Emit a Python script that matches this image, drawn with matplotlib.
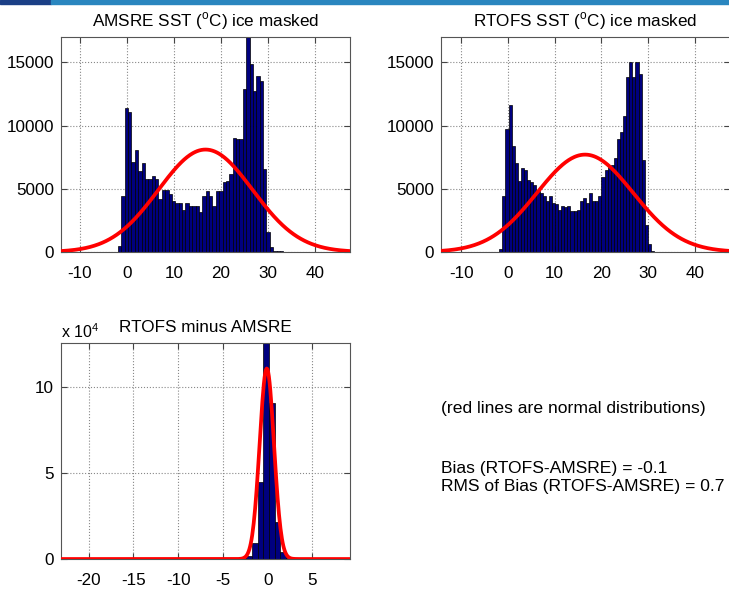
import matplotlib.pyplot as plt
import numpy as np
from matplotlib.patches import Rectangle

plt.rcParams['font.family'] = ['Liberation Sans', 'DejaVu Sans']
plt.rcParams['axes.unicode_minus'] = False

# AMSRE SST histogram counts (50 bins)
amsre_start, amsre_width = -1.9, 0.717
amsre_counts = [480, 4400, 11400, 11100, 7100, 8100, 6400, 7000, 5800, 5800,
                6000, 5800, 4200, 4900, 4900, 4550, 4000, 3850, 3850, 3300,
                3900, 3600, 3600, 3600, 3200, 4400, 4800, 4400, 3650, 4800,
                4800, 5500, 5600, 6200, 9000, 8900, 8900, 12850, 17500, 14850,
                12700, 13900, 13500, 6600, 1600, 400, 80, 50, 40, 20]

# RTOFS SST histogram counts (50 bins)
rtofs_start, rtofs_width = -1.85, 0.662
rtofs_counts = [270, 4400, 9700, 11650, 8350, 7000, 5600, 6650, 6500, 5700,
                5500, 5300, 4800, 4650, 4400, 4000, 4400, 3850, 3800, 3350,
                3600, 3550, 3600, 3250, 3250, 3350, 4000, 4250, 3850, 4650,
                4050, 4050, 4400, 5900, 6500, 6750, 6900, 7450, 8900, 9500,
                10750, 13800, 15000, 13800, 15000, 14100, 7300, 2100, 670, 100]

# RTOFS minus AMSRE histogram counts (50 bins)
diff_start, diff_width = -23.16, 0.63
diff_counts = [300, 150, 80, 60, 60, 50, 60, 50, 50, 60,
               50, 60, 50, 50, 60, 50, 60, 80, 100, 250,
               200, 80, 80, 100, 250, 100, 100, 120, 150, 200,
               300, 500, 800, 1700, 9100, 45000, 135000, 90700, 21700, 4300,
               1400, 600, 300, 100, 80, 60, 50, 40, 40, 30]

# normal fits: mean, std, peak height
amsre_fit = (16.7, 10.0, 8100)
rtofs_fit = (16.5, 10.3, 7700)
diff_fit = (-0.1, 0.8, 111000)

bar_color = '#00007f'
fs = 12.3
fig = plt.figure(figsize=(7.29, 5.90), dpi=100)

# slide header strip
fig.patches.append(Rectangle((0, 0.994), 0.07, 0.006, transform=fig.transFigure,
                             color='#1b3f86', zorder=0))
fig.patches.append(Rectangle((0.07, 0.994), 0.93, 0.006, transform=fig.transFigure,
                             color='#2a86bf', zorder=0))


def panel(rect, start, width, counts, fit, xlim, ylim, xticks, yticks, title):
    ax = fig.add_axes(rect)
    counts = np.array(counts)
    lefts = start + width * np.arange(len(counts))
    ax.bar(lefts, counts, width=width, align='edge', color=bar_color,
           edgecolor='black', linewidth=0.5, zorder=2)
    mu, sd, peak = fit
    xs = np.linspace(xlim[0], xlim[1], 400)
    ax.plot(xs, peak * np.exp(-0.5 * ((xs - mu) / sd) ** 2), color='red', lw=2.7, zorder=3)
    ax.set_xlim(xlim)
    ax.set_ylim(ylim)
    ax.set_xticks(xticks)
    ax.set_yticks(yticks)
    ax.grid(True, linestyle=':', color='#888888', linewidth=0.8, zorder=0)
    ax.set_axisbelow(True)
    ax.tick_params(direction='in', labelsize=fs, length=4, color='#444444',
                   top=True, right=True)
    ax.tick_params(axis='x', pad=10)
    ax.tick_params(axis='y', pad=5)
    for s in ax.spines.values():
        s.set_color('#555555')
    ax.set_title(title, fontsize=fs, pad=8)
    return ax


panel([0.0837, 0.5729, 0.3964, 0.3644], amsre_start, amsre_width, amsre_counts,
      amsre_fit, (-14.0, 47.4), (0, 17000), [-10, 0, 10, 20, 30, 40],
      [0, 5000, 10000, 15000], 'AMSRE SST ($^{\\mathregular{o}}$C) ice masked')

panel([0.605, 0.5729, 0.3964, 0.3644], rtofs_start, rtofs_width, rtofs_counts,
      rtofs_fit, (-14.3, 47.5), (0, 17000), [-10, 0, 10, 20, 30, 40],
      [0, 5000, 10000, 15000], 'RTOFS SST ($^{\\mathregular{o}}$C) ice masked')

ax3 = panel([0.0837, 0.0525, 0.3964, 0.3666], diff_start, diff_width, diff_counts,
            diff_fit, (-23.1, 9.2), (0, 126000), [-20, -15, -10, -5, 0, 5],
            [0, 50000, 100000], 'RTOFS minus AMSRE')
ax3.set_yticklabels(['0', '5', '10'])
ax3.text(0, 1.01, 'x 10$^{\\mathregular{4}}$', transform=ax3.transAxes, fontsize=11.5,
         ha='left', va='bottom')

fig.text(441 / 729, 1 - 408 / 590, '(red lines are normal distributions)',
         fontsize=12.6, ha='left', va='center')
fig.text(441 / 729, 1 - 468 / 590, 'Bias (RTOFS-AMSRE) = -0.1',
         fontsize=12.6, ha='left', va='center')
fig.text(441 / 729, 1 - 487 / 590, 'RMS of Bias (RTOFS-AMSRE) = 0.7',
         fontsize=12.6, ha='left', va='center')

plt.savefig('out.png', dpi=100, facecolor='white')
